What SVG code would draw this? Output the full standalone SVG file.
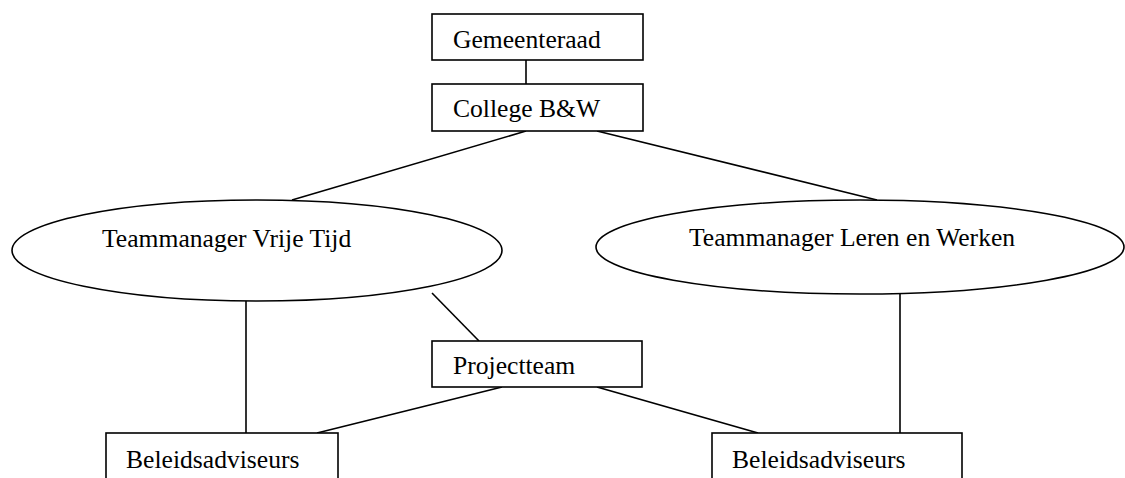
<svg xmlns="http://www.w3.org/2000/svg" width="1125" height="478" viewBox="0 0 1125 478">
<style>
.box{fill:#fff;stroke:#000;stroke-width:1.6}
.lbl{font-family:"Liberation Serif","Times New Roman",serif;font-size:25.6px;fill:#000}
.conn line{stroke:#000;stroke-width:1.6}
</style>
<rect width="1125" height="478" fill="#fff"/>
<g id="connectors" class="conn">
<line x1="526" y1="60" x2="526" y2="84"/>
<line x1="526" y1="131" x2="292" y2="200"/>
<line x1="597" y1="131" x2="877" y2="200"/>
<line x1="432" y1="293" x2="479" y2="341"/>
<line x1="246" y1="301" x2="246" y2="433"/>
<line x1="900" y1="294" x2="900" y2="433"/>
<line x1="502" y1="387" x2="317" y2="433"/>
<line x1="597" y1="387" x2="758" y2="433"/>
</g>
<g id="gemeenteraad"><rect class="box" x="432" y="14" width="211" height="46"/><text class="lbl" x="453" y="48">Gemeenteraad</text></g>
<g id="college"><rect class="box" x="432" y="84" width="211" height="47"/><text class="lbl" x="453" y="117">College B&amp;W</text></g>
<g id="tm-vrije-tijd"><ellipse class="box" cx="257" cy="250.5" rx="245" ry="50.5"/><text class="lbl" x="102" y="247">Teammanager Vrije Tijd</text></g>
<g id="tm-leren-werken"><ellipse class="box" cx="860" cy="247" rx="264" ry="47"/><text class="lbl" x="689" y="246">Teammanager Leren en Werken</text></g>
<g id="projectteam"><rect class="box" x="432" y="341" width="210" height="46"/><text class="lbl" x="453" y="374">Projectteam</text></g>
<g id="beleid-links"><rect class="box" x="106" y="433" width="232" height="60"/><text class="lbl" x="126" y="468">Beleidsadviseurs</text></g>
<g id="beleid-rechts"><rect class="box" x="712" y="433" width="250" height="60"/><text class="lbl" x="732" y="468">Beleidsadviseurs</text></g>
</svg>
